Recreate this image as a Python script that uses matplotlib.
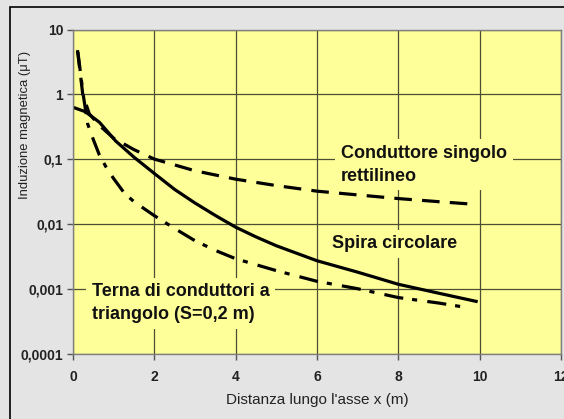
import numpy as np
import matplotlib
matplotlib.use("Agg")
import matplotlib.pyplot as plt
from matplotlib.patches import Rectangle
from matplotlib.ticker import FixedLocator, FixedFormatter

plt.rcParams['font.family'] = ['Liberation Sans', 'DejaVu Sans']

# spira circolare (solid)
spira_x = [0, 0.3, 0.65, 1.05, 1.5, 2, 2.5, 3, 3.5, 4, 4.5, 5, 6, 7, 8, 9, 9.95]
spira_y = [0.63, 0.54, 0.37, 0.19, 0.107, 0.06, 0.034, 0.021, 0.0135, 0.0089,
           0.0063, 0.0046, 0.0027, 0.0018, 0.00117, 0.00085, 0.00063]

# conduttore singolo rettilineo (dashed)
cond_x = [0.11, 0.24, 0.4, 0.65, 1.0, 1.5, 2, 3, 4, 5, 6, 7, 8, 9, 9.9]
cond_y = [4.8, 1.0, 0.5, 0.33, 0.21, 0.14, 0.10, 0.066, 0.049, 0.039, 0.032,
          0.028, 0.0246, 0.022, 0.020]

# terna di conduttori a triangolo (dash-dot)
terna_x = [0.12, 0.25, 0.36, 0.5, 0.65, 0.81, 1.0, 1.26, 1.5, 2, 2.5, 3, 3.5, 4,
           5, 6, 7, 8, 9, 9.7]
terna_y = [4.5, 1.0, 0.35, 0.2, 0.115, 0.076, 0.05, 0.030, 0.022, 0.0134, 0.0085,
           0.0055, 0.0039, 0.0029, 0.0019, 0.0013, 0.001, 0.00073, 0.0006, 0.00051]

y_ticks = [10, 1, 0.1, 0.01, 0.001, 0.0001]
y_labels = ["10", "1", "0,1", "0,01", "0,001", "0,0001"]
x_ticks = [0, 2, 4, 6, 8, 10, 12]

fig = plt.figure(figsize=(5.64, 4.19), dpi=100, facecolor='#e4e4e4')
fig.patches.append(Rectangle((10 / 564, -0.1), 1.2, 1.1 - 7 / 419,
                             transform=fig.transFigure, fill=False,
                             edgecolor='black', linewidth=1.2))

ax = fig.add_axes([73 / 564, 1 - 353.5 / 419, (561 - 73) / 564, (353.5 - 29.5) / 419])
ax.set_facecolor('#ffff99')
ax.set_yscale('log')
ax.set_xlim(0, 12)
ax.set_ylim(0.0001, 10)

ax.yaxis.set_major_locator(FixedLocator(y_ticks))
ax.yaxis.set_major_formatter(FixedFormatter(y_labels))
ax.yaxis.set_minor_locator(FixedLocator([]))
ax.set_xticks(x_ticks)
ax.grid(True, color='#4d4d33', linewidth=0.9)
ax.set_axisbelow(True)
for s in ax.spines.values():
    s.set_color('#7f7f7f')
    s.set_linewidth(1.0)
ax.tick_params(axis='both', length=4, width=1, color='#555555', pad=3)
for lab in ax.get_xticklabels() + ax.get_yticklabels():
    lab.set_fontweight('bold')
    lab.set_fontsize(10)
    lab.set_color('#222222')
ax.tick_params(axis='x', pad=8)

ax.plot(spira_x, spira_y, color='black', linewidth=2.3, solid_capstyle='butt',
        solid_joinstyle='round')
ax.plot(cond_x, cond_y, color='black', linewidth=2.3, dashes=(5.5, 3.2),
        dash_capstyle='butt')
ax.plot(terna_x, terna_y, color='black', linewidth=2.3, dashes=(6, 2.8, 1.6, 3.2),
        dash_capstyle='butt')

box = dict(facecolor='#ffff99', edgecolor='none', pad=4)
ax.text(6.59, 0.082, "Conduttore singolo\nrettilineo", fontsize=13,
        fontweight='bold', ha='left', va='center', linespacing=1.45, bbox=box,
        color='#111111')
ax.text(6.36, 0.0049, "Spira circolare", fontsize=13, fontweight='bold',
        ha='left', va='center', bbox=box, color='#111111')
ax.text(0.46, 0.0006, "Terna di conduttori a\ntriangolo (S=0,2 m)", fontsize=13,
        fontweight='bold', ha='left', va='center', linespacing=1.45, bbox=box,
        color='#111111')

fig.text(25 / 564, 1 - 125 / 419, "Induzione magnetica (\u03bcT)", rotation=90,
         ha='center', va='center', fontsize=9.4, color='#222222')
fig.text(317 / 564, 1 - 400 / 419, "Distanza lungo l'asse x (m)", ha='center',
         va='center', fontsize=11, color='#222222')

fig.savefig("out.png", dpi=100, facecolor=fig.get_facecolor())
